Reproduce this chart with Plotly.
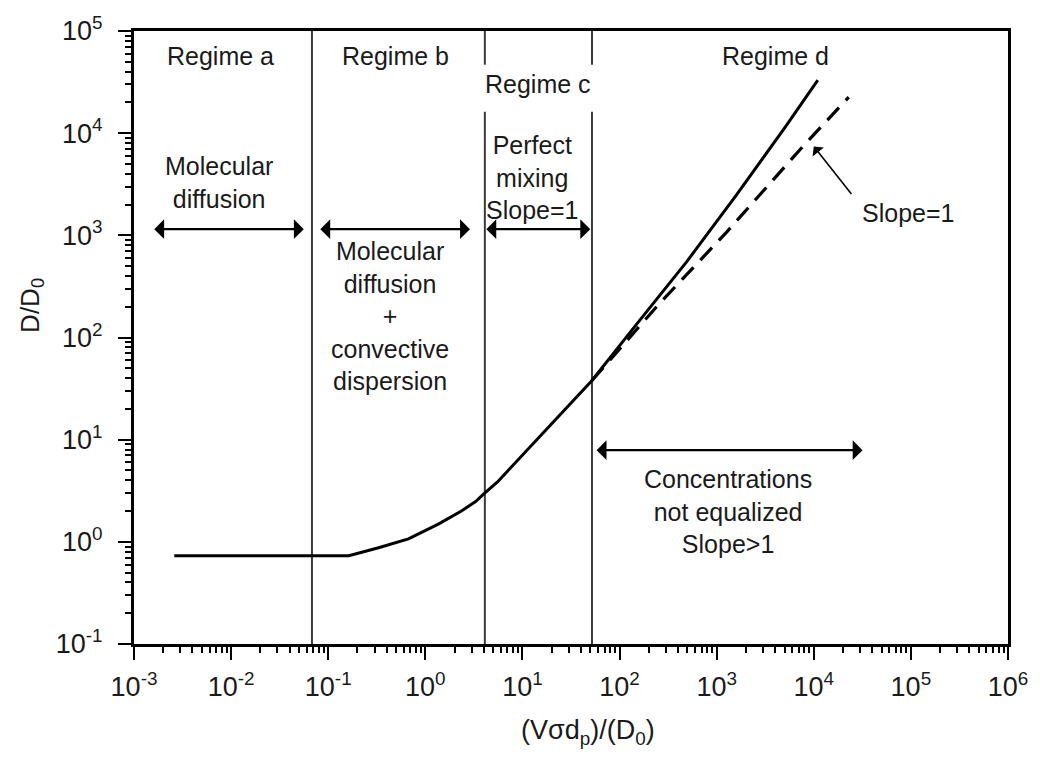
import numpy as np
import plotly.graph_objects as go

# Dispersion curve D/D0 versus reduced velocity (log-log)
curve_x = [0.0026, 0.163, 0.33, 0.67, 1.36, 2.33, 3.32, 3.92, 5.57, 9.6, 21.4, 52,
           150, 490, 1580, 5100, 11000]
curve_y = [0.73, 0.73, 0.875, 1.07, 1.49, 1.99, 2.49, 2.90, 3.88, 6.76, 15.4, 38,
           135, 550, 2450, 11500, 33000]

# Slope = 1 reference line in regime d
slope1_x = [52, 254, 1260, 7730, 22900]
slope1_y = [38, 212, 1070, 7430, 22500]

# Regime boundaries
boundaries = [0.068, 4.1, 52]

# Axis ticks
x_tick_exp = [-3, -2, -1, 0, 1, 2, 3, 4, 5, 6]
y_tick_exp = [-1, 0, 1, 2, 3, 4, 5]

FONT = "Liberation Sans, Arial, sans-serif"
TXT = "#1a1a1a"
LINE_GRAY = "#3a3a3a"

fig = go.Figure()

# regime boundary lines (b/c and c/d lines leave room for the "Regime c" label)
gap_lo, gap_hi = 10 ** 4.21, 10 ** 4.67
fig.add_trace(go.Scatter(x=[boundaries[0]] * 2, y=[0.1, 1e5], mode="lines",
                         line=dict(color=LINE_GRAY, width=2), hoverinfo="skip"))
for b in boundaries[1:]:
    fig.add_trace(go.Scatter(x=[b, b, None, b, b], y=[0.1, gap_lo, None, gap_hi, 1e5],
                             mode="lines", line=dict(color=LINE_GRAY, width=2),
                             hoverinfo="skip"))

fig.add_trace(go.Scatter(x=slope1_x, y=slope1_y, mode="lines",
                         line=dict(color="black", width=3.2, dash="17px,10px")))
fig.add_trace(go.Scatter(x=curve_x, y=curve_y, mode="lines",
                         line=dict(color="black", width=3)))

lg = np.log10


def text(x, y, s):
    fig.add_annotation(x=lg(x), y=lg(y), xref="x", yref="y", text=s, showarrow=False,
                       font=dict(family=FONT, size=25, color=TXT), align="center")


def double_arrow(x0, x1, y):
    fig.add_annotation(x=lg(x1), y=lg(y), ax=lg(x0), ay=lg(y), xref="x", yref="y",
                       axref="x", ayref="y", text="", showarrow=True,
                       arrowhead=1, startarrowhead=1, arrowside="end+start",
                       arrowsize=1.5, startarrowsize=1.5, arrowwidth=2.2,
                       arrowcolor="black")


text(10 ** -2.11, 10 ** 4.76, "Regime a")
text(10 ** -0.31, 10 ** 4.76, "Regime b")
text(10 ** 1.155, 10 ** 4.48, "Regime c")
text(10 ** 3.61, 10 ** 4.76, "Regime d")
text(10 ** -2.12, 10 ** 3.52, "Molecular<br>diffusion")
text(10 ** -0.36, 10 ** 2.21, "Molecular<br>diffusion<br>+<br>convective<br>dispersion")
text(10 ** 1.10, 10 ** 3.57, "Perfect<br>mixing<br>Slope=1")
text(10 ** 3.12, 10 ** 0.30, "Concentrations<br>not equalized<br>Slope>1")
text(10 ** 4.97, 10 ** 3.22, "Slope=1")

double_arrow(0.00156, 0.056, 1150)
double_arrow(0.080, 2.88, 1150)
double_arrow(4.1, 49.9, 1150)
double_arrow(56, 31800, 7.9)

# pointer to the slope = 1 line
fig.add_annotation(x=4.0, y=3.87, ax=4.40, ay=3.39, xref="x", yref="y",
                   axref="x", ayref="y", text="", showarrow=True, arrowhead=1,
                   arrowsize=1.5, arrowwidth=1.6, arrowcolor="black")

# axis titles
fig.add_annotation(x=-0.118, y=0.553, xref="paper", yref="paper", text="D/D<sub>0</sub>",
                   xanchor="center", yanchor="middle", showarrow=False, textangle=-90,
                   font=dict(family=FONT, size=26, color=TXT))
fig.add_annotation(x=0.519, y=-0.143, xref="paper", yref="paper",
                   text="(Vσd<sub>p</sub>)/(D<sub>0</sub>)", showarrow=False,
                   xanchor="center", yanchor="middle",
                   font=dict(family=FONT, size=27, color=TXT))


def minor_vals(exps):
    return [m * 10.0 ** e for e in exps[:-1] for m in range(2, 10)]


axis_common = dict(type="log", showline=True, linewidth=3, linecolor="black",
                   mirror=True, showgrid=False, zeroline=False, ticks="outside",
                   ticklen=13, tickwidth=2, tickcolor="black",
                   tickfont=dict(family=FONT, size=27, color=TXT))

fig.update_xaxes(range=[-3, 6], tickvals=[10.0 ** e for e in x_tick_exp],
                 ticktext=[f"10<sup>{e}</sup>" for e in x_tick_exp],
                 minor=dict(tickvals=minor_vals(x_tick_exp), ticks="outside",
                            ticklen=6, tickwidth=2, tickcolor="black"),
                 ticklabelstandoff=4, **axis_common)
fig.update_yaxes(range=[-1, 5], tickvals=[10.0 ** e for e in y_tick_exp],
                 ticktext=[f"10<sup>{e}</sup>" for e in y_tick_exp],
                 minor=dict(tickvals=minor_vals(y_tick_exp), ticks="outside",
                            ticklen=6, tickwidth=2, tickcolor="black"),
                 ticklabelstandoff=10, **axis_common)

fig.update_layout(width=1040, height=757, showlegend=False,
                  margin=dict(l=134, r=27, t=22, b=113),
                  paper_bgcolor="white", plot_bgcolor="white",
                  font=dict(family=FONT, color=TXT))

fig.write_html("out.html")
